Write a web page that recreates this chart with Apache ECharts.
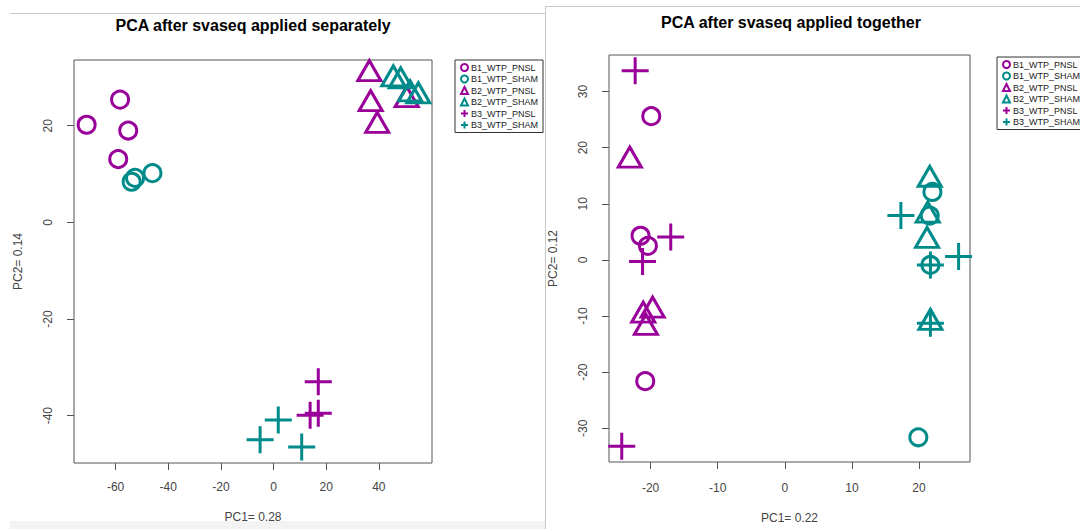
<!DOCTYPE html>
<html>
<head>
<meta charset="utf-8">
<script src="https://cdn.jsdelivr.net/npm/echarts@6/dist/echarts.min.js"></script>
<style>
html,body{margin:0;padding:0;background:#fff;}
#chart{width:1080px;height:529px;}
</style>
</head>
<body>
<div id="chart"></div>
<script>
// ---------- data ----------
const groupNames = ['B1_WTP_PNSL','B1_WTP_SHAM','B2_WTP_PNSL','B2_WTP_SHAM','B3_WTP_PNSL','B3_WTP_SHAM'];

// Left panel: PCA after svaseq applied separately
const leftB1PNSL = [[-71.0,20.2],[-58.3,25.4],[-55.2,19.0],[-59.0,13.1]];
const leftB1SHAM = [[-53.9,8.4],[-52.6,9.2],[-46.0,10.2]];
const leftB2PNSL = [[36.4,31.4],[36.9,25.2],[39.4,20.7],[50.6,26.0]];
const leftB2SHAM = [[45.5,30.3],[48.3,29.9],[51.9,27.2],[55.0,26.8]];
const leftB3PNSL = [[17.0,-33.0],[13.9,-39.9],[17.0,-39.5]];
const leftB3SHAM = [[1.8,-40.9],[-5.1,-45.0],[10.7,-46.5]];

// Right panel: PCA after svaseq applied together
const rightB1PNSL = [[-19.9,25.6],[-21.5,4.3],[-20.4,2.5],[-20.8,-21.6]];
const rightB1SHAM = [[22.0,12.1],[21.6,7.9],[21.7,-0.9],[19.9,-31.6]];
const rightB2PNSL = [[-23.1,18.3],[-19.7,-8.4],[-21.1,-9.3],[-20.7,-11.5]];
const rightB2SHAM = [[21.6,14.9],[21.3,8.5],[21.2,4.0],[21.7,-10.6]];
const rightB3PNSL = [[-22.3,33.7],[-17.0,4.1],[-21.2,-0.3],[-24.3,-33.2]];
const rightB3SHAM = [[17.3,7.9],[21.7,-0.9],[25.9,0.6],[21.7,-11.3]];

const leftXTicks = [-60,-40,-20,0,20,40];
const leftYTicks = [-40,-20,0,20];
const rightXTicks = [-20,-10,0,10,20];
const rightYTicks = [-30,-20,-10,0,10,20,30];

const titles = ['PCA after svaseq applied separately','PCA after svaseq applied together'];
const xNames = ['PC1= 0.28','PC1= 0.22'];
const yNames = ['PC2= 0.14','PC2= 0.12'];

// ---------- styling ----------
const PURPLE = '#990099';
const TEAL = '#008B8B';
const FONT = '"Liberation Sans", Arial, sans-serif';
const groupColor = [PURPLE, TEAL, PURPLE, TEAL, PURPLE, TEAL];
const CROSS = 'path://M10,0 L10,20 M0,10 L20,10';
const groupSymbol = ['circle','circle','triangle','triangle',CROSS,CROSS];
const groupSize = [17,17,[23,20],[23,20],27,27];

const leftData = [leftB1PNSL,leftB1SHAM,leftB2PNSL,leftB2SHAM,leftB3PNSL,leftB3SHAM];
const rightData = [rightB1PNSL,rightB1SHAM,rightB2PNSL,rightB2SHAM,rightB3PNSL,rightB3SHAM];

function mkSeries(dataSets, idx){
  return dataSets.map((d,i)=>({
    type:'scatter', name: groupNames[i], xAxisIndex: idx, yAxisIndex: idx,
    data: d, symbol: groupSymbol[i], symbolSize: groupSize[i],
    itemStyle:{color:'rgba(0,0,0,0)', borderColor: groupColor[i], borderWidth:3, opacity:1},
    emphasis:{disabled:true}, silent:true
  }));
}

function axisCommon(ticks){
  return {
    type:'value', splitLine:{show:false},
    axisLine:{show:false, onZero:false},
    axisTick:{show:true, length:7, customValues: ticks, lineStyle:{color:'#555', width:1}},
    nameTextStyle:{color:'#444', fontSize:12, fontFamily:FONT}
  };
}

function legendFor(left, top){
  return {
    orient:'vertical', left:left, top:top,
    data: groupNames.map((n,i)=>({name:n, icon: groupSymbol[i]})),
    itemWidth:7, itemHeight:7, itemGap:2.5,
    padding:[3,5,3,5],
    borderColor:'#333', borderWidth:1, borderRadius:0,
    textStyle:{fontSize:9, color:'#222', fontFamily:FONT, padding:[0,0,0,-2]},
    itemStyle:{borderWidth:2},
    selectedMode:false
  };
}

const chart = echarts.init(document.getElementById('chart'), null, {renderer:'svg'});
const option = {
  animation:false,
  backgroundColor:'#fff',
  title:[
    {text:titles[0], left:248, top:12, textAlign:'center',
     textStyle:{fontSize:16, fontWeight:'bold', color:'#000', fontFamily:FONT}},
    {text:titles[1], left:786, top:9, textAlign:'center',
     textStyle:{fontSize:16, fontWeight:'bold', color:'#000', fontFamily:FONT}}
  ],
  grid:[
    {left:74, top:60, width:358, height:403, show:true, borderColor:'#555', borderWidth:1, backgroundColor:'rgba(0,0,0,0)'},
    {left:609, top:55, width:361, height:411, show:true, borderColor:'#555', borderWidth:1, backgroundColor:'rgba(0,0,0,0)'}
  ],
  xAxis:[
    Object.assign(axisCommon(leftXTicks), {gridIndex:0, min:-75.8, max:60.2, name:xNames[0], nameLocation:'middle', nameGap:48,
      axisLabel:{customValues:leftXTicks, color:'#444', fontSize:12, fontFamily:FONT, margin:18}}),
    Object.assign(axisCommon(rightXTicks), {gridIndex:1, min:-26.2, max:27.6, name:xNames[1], nameLocation:'middle', nameGap:50,
      axisLabel:{customValues:rightXTicks, color:'#444', fontSize:12, fontFamily:FONT, margin:20}})
  ],
  yAxis:[
    Object.assign(axisCommon(leftYTicks), {gridIndex:0, min:-49.8, max:33.6, name:yNames[0], nameLocation:'middle', nameGap:50,
      axisLabel:{customValues:leftYTicks, color:'#444', fontSize:12, fontFamily:FONT, margin:20, rotate:90}}),
    Object.assign(axisCommon(rightYTicks), {gridIndex:1, min:-36.0, max:36.5, name:yNames[1], nameLocation:'middle', nameGap:50,
      axisLabel:{customValues:rightYTicks, color:'#444', fontSize:12, fontFamily:FONT, margin:20, rotate:90}})
  ],
  legend:[ legendFor(455, 60), legendFor(997, 57) ],
  series: mkSeries(leftData,0).concat(mkSeries(rightData,1)),
  graphic:[
    {type:'line', shape:{x1:10,y1:13.5,x2:545,y2:13.5}, style:{stroke:'#c8c8c8', lineWidth:1}, silent:true},
    {type:'line', shape:{x1:545,y1:6.5,x2:1080,y2:6.5}, style:{stroke:'#c8c8c8', lineWidth:1}, silent:true},
    {type:'line', shape:{x1:545.5,y1:6,x2:545.5,y2:529}, style:{stroke:'#c8c8c8', lineWidth:1}, silent:true},
    {type:'rect', shape:{x:10,y:521,width:535,height:8}, style:{fill:'#f3f3f3'}, silent:true, z:-1}
  ]
};
chart.setOption(option);
</script>
</body>
</html>
